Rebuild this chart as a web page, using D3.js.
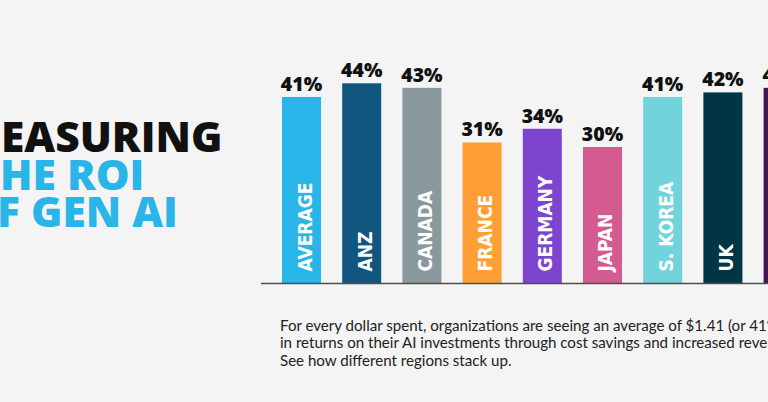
<!DOCTYPE html>
<html>
<head>
<meta charset="utf-8">
<script src="https://cdn.jsdelivr.net/npm/d3@7"></script>
<style>
  html, body { margin: 0; padding: 0; background: #f3f4f3; overflow: hidden; }
  svg { display: block; }
</style>
</head>
<body>
<svg id="chart" width="768" height="402"></svg>
<script>
const categories = ["AVERAGE", "ANZ", "CANADA", "FRANCE", "GERMANY", "JAPAN", "S. KOREA", "UK", "US"];
const values = [41, 44, 43, 31, 34, 30, 41, 42, 43];
const barColors = ["#29b5e8", "#11567f", "#8a999e", "#ff9f36", "#7d44cf", "#d45b90", "#71d3dc", "#003545", "#461554"];
const titleLines = ["MEASURING", "THE ROI", "OF GEN AI"];
const titleColors = ["#111111", "#29b5e8", "#29b5e8"];
const titleSecondLetterX = [1, 0, -3];
const noteLines = [
  "For every dollar spent, organizations are seeing an average of $1.41 (or 41%)",
  "in returns on their AI investments through cost savings and increased revenue.",
  "See how different regions stack up."
];

const svg = d3.select("#chart");
svg.append("rect").attr("width", 768).attr("height", 402).attr("fill", "#f3f4f3");

// Title
const titleG = svg.append("g");
const tFont = "'Open Sans', 'DejaVu Sans', sans-serif";
titleLines.forEach((t, i) => {
  const el = titleG.append("text")
    .attr("y", 152 + i * 37.5)
    .attr("font-family", tFont).attr("font-weight", 800).attr("font-size", 42.5)
    .attr("fill", titleColors[i]).text(t);
  const firstW = el.node().getSubStringLength(0, 1);
  el.attr("x", titleSecondLetterX[i] - firstW);
});

// Scales
const x = d3.scaleBand().domain(categories)
  .range([282, 282 + 8 * 60.2 + 39]).paddingInner(0.352).paddingOuter(0);
const y = d3.scaleLinear().domain([0, 50]).range([283.5, 283.5 - 50 * 4.55]);

const g = svg.append("g");
g.selectAll("rect.bar").data(categories).join("rect")
  .attr("class", "bar")
  .attr("x", d => x(d)).attr("width", x.bandwidth())
  .attr("y", (d, i) => y(values[i]))
  .attr("height", (d, i) => y(0) - y(values[i]))
  .attr("fill", (d, i) => barColors[i]);

// baseline
svg.append("line").attr("x1", 261).attr("x2", 768)
  .attr("y1", y(0)).attr("y2", y(0))
  .attr("stroke", "#4d4d4d").attr("stroke-width", 1.5);

// value labels
g.selectAll("text.val").data(categories).join("text")
  .attr("class", "val")
  .attr("x", d => x(d) + x.bandwidth() / 2)
  .attr("y", (d, i) => y(values[i]) - 6)
  .attr("text-anchor", "middle")
  .attr("font-family", "'Open Sans', sans-serif").attr("font-weight", 800)
  .attr("font-size", 19.5).attr("fill", "#111")
  .text((d, i) => values[i] + "%");

// rotated category labels
g.selectAll("text.cat").data(categories).join("text")
  .attr("class", "cat")
  .attr("transform", d => `translate(${x(d) + x.bandwidth() / 2 + 10},${y(0) - 12}) rotate(-90)`)
  .attr("font-family", "'Liberation Sans Narrow', 'DejaVu Sans Condensed', 'Open Sans', sans-serif")
  .attr("font-weight", 700).attr("font-size", 19).attr("fill", "#ffffff")
  .text(d => d);

// note
noteLines.forEach((t, i) => {
  svg.append("text").attr("x", 280).attr("y", 330.5 + i * 17.7)
    .attr("font-family", "Lato, 'Open Sans', sans-serif").attr("font-size", 15.1)
    .attr("fill", "#222").text(t);
});
</script>
</body>
</html>
